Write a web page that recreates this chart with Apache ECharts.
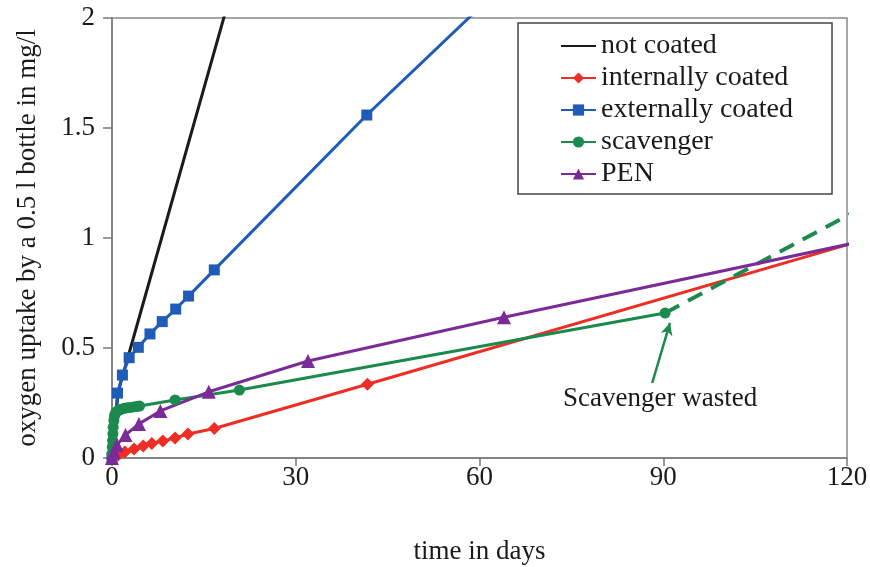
<!DOCTYPE html>
<html>
<head>
<meta charset="utf-8">
<script src="https://cdn.jsdelivr.net/npm/echarts@6/dist/echarts.min.js"></script>
<style>html,body{margin:0;padding:0;background:#fff}#c{width:870px;height:567px}</style>
</head>
<body>
<div id="c"></div>
<script>
// ---- data (days, mg/l) ----
const seriesNames = ["not coated", "internally coated", "externally coated", "scavenger", "PEN"];
const notCoated = [[0,0],[1,0.3],[22,2.37]];
const internallyCoated = [[0,0],[1,0.014],[2.1,0.027],[3.6,0.041],[5.1,0.055],[6.5,0.066],[8.3,0.077],[10.3,0.091],[12.4,0.109],[16.7,0.134],[41.7,0.335],[122,0.985]];
const externallyCoated = [[0,0],[0.9,0.295],[1.7,0.377],[2.8,0.456],[4.3,0.503],[6.2,0.564],[8.2,0.62],[10.4,0.677],[12.5,0.736],[16.7,0.855],[41.6,1.559],[62,2.1]];
const scavenger = [[0,0.02],[0.05,0.05],[0.1,0.08],[0.15,0.11],[0.2,0.14],[0.3,0.17],[0.4,0.19],[0.5,0.2],[0.7,0.21],[1,0.215],[1.3,0.22],[1.7,0.223],[2,0.226],[2.5,0.228],[3,0.23],[3.5,0.232],[4,0.234],[4.5,0.236],[10.3,0.264],[20.8,0.309],[90.3,0.659]];
const scavengerWasted = [[90.3,0.659],[122,1.13]];
const pen = [[0,0],[0.3,0.027],[0.8,0.059],[2.2,0.105],[4.4,0.155],[7.9,0.214],[15.8,0.301],[32,0.441],[64,0.64],[122,0.982]];
const xTicks = [0, 30, 60, 90, 120];
const yTicks = [0, 0.5, 1, 1.5, 2];
const annotationText = "Scavenger wasted";
const annotationArrow = [[88.2,0.341],[91.1,0.614]];
const annotationTextPos = [89.5, 0.27];

const FONT = "Liberation Serif";
const colors = { black:"#1b1b1b", red:"#ee2e24", blue:"#1f5cb8", green:"#1b8a4c", purple:"#7a2b98" };

const chart = echarts.init(document.getElementById('c'), null, {renderer:'canvas'});
const option = {
  backgroundColor:'#fff',
  animation:false,
  grid:{left:112, right:23, top:18, bottom:109, show:true, borderColor:'#8a8a8a', borderWidth:1.5,
        containLabel:false, outerBoundsMode:'none'},
  legend:{
    data: [
      {name:seriesNames[0], itemStyle:{color:'rgba(0,0,0,0)', borderWidth:0}},
      seriesNames[1], seriesNames[2], seriesNames[3], seriesNames[4]
    ],
    orient:'vertical', left:518, top:23,
    padding:[9,39,6,42],
    backgroundColor:'#fff', borderColor:'#444', borderWidth:1.5,
    itemWidth:35, itemHeight:14, itemGap:4,
    textStyle:{fontFamily:FONT, fontSize:28, color:'#1a1a1a'}
  },
  xAxis:{
    type:'value', min:xTicks[0], max:xTicks[xTicks.length-1], interval:30,
    name:'time in days', nameLocation:'middle', nameGap:80,
    nameTextStyle:{fontFamily:FONT, fontSize:27, color:'#1a1a1a'},
    axisLine:{lineStyle:{color:'#7a7a7a', width:1.5}},
    axisTick:{show:true, length:8, lineStyle:{color:'#7a7a7a', width:1.5}},
    axisLabel:{fontFamily:FONT, fontSize:27, color:'#1a1a1a', margin:6},
    splitLine:{show:false}
  },
  yAxis:{
    type:'value', min:yTicks[0], max:yTicks[yTicks.length-1], interval:0.5,
    name:'oxygen uptake by a 0.5 l bottle in mg/l', nameLocation:'middle', nameGap:71,
    nameTextStyle:{fontFamily:FONT, fontSize:27, color:'#1a1a1a'},
    axisLine:{show:true, lineStyle:{color:'#7a7a7a', width:1.5}},
    axisTick:{show:true, length:9, lineStyle:{color:'#7a7a7a', width:1.5}},
    axisLabel:{fontFamily:FONT, fontSize:27, color:'#1a1a1a', margin:17},
    splitLine:{show:false}
  },
  series:[
    {name:seriesNames[0], type:'line', data:notCoated, symbol:'none', clip:true,
     lineStyle:{color:colors.black, width:3}, itemStyle:{color:colors.black}},
    {name:seriesNames[1], type:'line', data:internallyCoated, symbol:'diamond', symbolSize:13, clip:true,
     lineStyle:{color:colors.red, width:3}, itemStyle:{color:colors.red}},
    {name:seriesNames[2], type:'line', data:externallyCoated, symbol:'rect', symbolSize:11, clip:true,
     lineStyle:{color:colors.blue, width:3}, itemStyle:{color:colors.blue}},
    {name:seriesNames[3], type:'line', data:scavenger, symbol:'circle', symbolSize:11, clip:true,
     lineStyle:{color:colors.green, width:3}, itemStyle:{color:colors.green},
     markLine:{silent:true, symbol:['none','arrow'], symbolSize:[9,12],
       lineStyle:{color:colors.green, width:2.5, type:'solid'}, label:{show:false},
       data:[[{coord:annotationArrow[0]},{coord:annotationArrow[1]}]]}},
    {name:'scavenger wasted', type:'line', data:scavengerWasted, symbol:'none', clip:true,
     lineStyle:{color:colors.green, width:4, type:[16,10]}, itemStyle:{color:colors.green}},
    {name:seriesNames[4], type:'line', data:pen, symbol:'triangle', symbolSize:14, clip:true,
     lineStyle:{color:colors.purple, width:3}, itemStyle:{color:colors.purple}}
  ]
};
chart.setOption(option);
const p = chart.convertToPixel({gridIndex:0}, annotationTextPos);
chart.setOption({graphic:[{type:'text', x:p[0], y:p[1], style:{text:annotationText, fontFamily:FONT, fontSize:27, fill:'#1a1a1a', align:'center', verticalAlign:'middle'}}]});
</script>
</body>
</html>
